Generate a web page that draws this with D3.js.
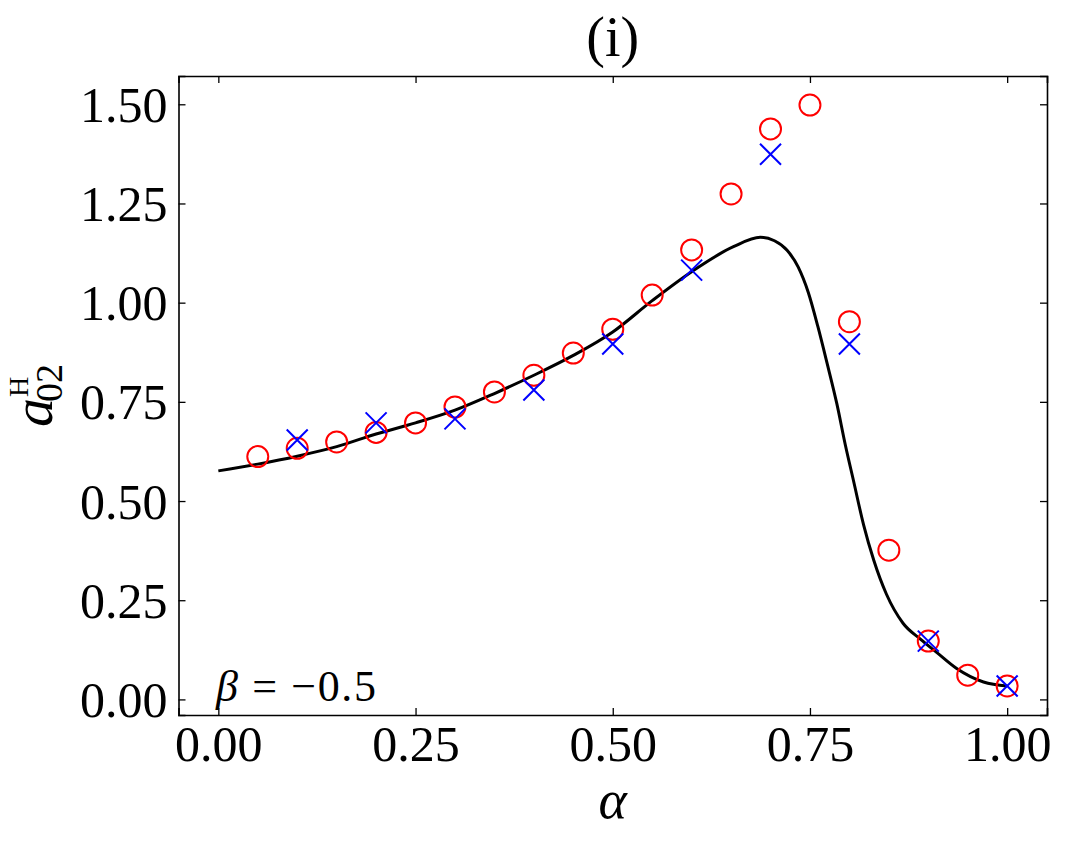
<!DOCTYPE html>
<html>
<head>
<meta charset="utf-8">
<script src="https://cdn.jsdelivr.net/npm/d3@7"></script>
<style>
  body { margin: 0; background: #fff; }
  text { font-family: "Liberation Serif", "DejaVu Serif", serif; fill: #000; }
</style>
</head>
<body>
<svg id="chart" width="1068" height="843"></svg>
<script>
// simulation (circles), alpha every 0.05
const circleAlpha = [0.05, 0.10, 0.15, 0.20, 0.25, 0.30, 0.35, 0.40, 0.45, 0.50,
                     0.55, 0.60, 0.65, 0.70, 0.75, 0.80, 0.85, 0.90, 0.95, 1.00];
const circleA02 = [0.612, 0.633, 0.649, 0.673, 0.697, 0.737, 0.775, 0.817, 0.873, 0.933,
                   1.019, 1.133, 1.274, 1.438, 1.498, 0.952, 0.376, 0.147, 0.061, 0.034];

// second set (crosses), alpha every 0.1
const crossAlpha = [0.1, 0.2, 0.3, 0.4, 0.5, 0.6, 0.7, 0.8, 0.9, 1.0];
const crossA02 = [0.654, 0.697, 0.707, 0.780, 0.896, 1.082, 1.374, 0.896, 0.147, 0.034];

// theory curve
const curveAlpha = [0.00, 0.05, 0.10, 0.15, 0.20, 0.25, 0.30, 0.35, 0.40, 0.45, 0.50, 0.55,
                    0.60, 0.653, 0.687, 0.705, 0.721, 0.735, 0.748, 0.760, 0.772, 0.784,
                    0.795, 0.805, 0.818, 0.831, 0.847, 0.868, 0.890, 0.911, 0.936, 0.970, 1.00];
const curveA02 = [0.576, 0.593, 0.613, 0.637, 0.669, 0.697, 0.729, 0.771, 0.817, 0.867, 0.926, 1.005,
                  1.078, 1.141, 1.165, 1.156, 1.132, 1.090, 1.025, 0.940, 0.845, 0.746,
                  0.640, 0.553, 0.440, 0.350, 0.265, 0.192, 0.152, 0.118, 0.078, 0.044, 0.034];

const xTicks = [0, 0.25, 0.5, 0.75, 1.0];
const yTicks = [0, 0.25, 0.5, 0.75, 1.0, 1.25, 1.5];

const svg = d3.select("#chart");
const mLeft = 178.5, mRight = 1047, mTop = 76, mBottom = 715;

const x = d3.scaleLinear().domain([-0.0505, 1.0505]).range([mLeft, mRight]);
const y = d3.scaleLinear().domain([-0.0393, 1.5713]).range([mBottom, mTop]);

// axes: ticks inward on all sides
const tl = 7;
svg.append("g").attr("transform", `translate(0,${mBottom})`)
  .call(d3.axisBottom(x).tickValues(xTicks).tickSize(-tl).tickFormat(d3.format(".2f")))
  .call(g => g.selectAll("text").attr("font-size", 50).attr("y", 46).attr("dy", 0));
svg.append("g").attr("transform", `translate(0,${mTop})`)
  .call(d3.axisTop(x).tickValues(xTicks).tickSize(-tl).tickFormat(""));
svg.append("g").attr("transform", `translate(${mLeft},0)`)
  .call(d3.axisLeft(y).tickValues(yTicks).tickSize(-tl).tickPadding(11).tickFormat(d3.format(".2f")))
  .call(g => g.selectAll("text").attr("font-size", 50).attr("dy", "0.34em"));
svg.append("g").attr("transform", `translate(${mRight},0)`)
  .call(d3.axisRight(y).tickValues(yTicks).tickSize(-tl).tickFormat(""));

svg.selectAll(".domain").attr("stroke", "#000").attr("stroke-width", 1.6);
svg.selectAll(".tick line").attr("stroke", "#000").attr("stroke-width", 1.3);
svg.selectAll(".tick text").attr("fill", "#000").style("font-family", "'Liberation Serif', serif");

// curve
const line = d3.line().x((d, i) => x(curveAlpha[i])).y(d => y(d)).curve(d3.curveMonotoneX);
svg.append("path").datum(curveA02)
  .attr("d", line)
  .attr("fill", "none").attr("stroke", "#000").attr("stroke-width", 3);

// circles
svg.append("g").selectAll("circle").data(circleA02).join("circle")
  .attr("cx", (d, i) => x(circleAlpha[i]))
  .attr("cy", d => y(d))
  .attr("r", 10.5)
  .attr("fill", "none").attr("stroke", "#ff0000").attr("stroke-width", 2);

// crosses
const cs = 10.5;
svg.append("g").selectAll("path").data(crossA02).join("path")
  .attr("d", (d, i) => {
    const cx = x(crossAlpha[i]), cy = y(d);
    return `M${cx - cs},${cy - cs}L${cx + cs},${cy + cs}M${cx - cs},${cy + cs}L${cx + cs},${cy - cs}`;
  })
  .attr("stroke", "#0000ff").attr("stroke-width", 2).attr("fill", "none");

// title
svg.append("text").attr("x", (mLeft + mRight) / 2).attr("y", 56)
  .attr("text-anchor", "middle").attr("font-size", 56).text("(i)");

// x label
svg.append("text").attr("x", (mLeft + mRight) / 2).attr("y", 818)
  .attr("text-anchor", "middle").attr("font-size", 54).attr("font-style", "italic").text("α");

// y label a_02^H
const yl = svg.append("g").attr("transform", "translate(52,0) rotate(-90)");
yl.append("text").attr("x", -427).attr("y", 0)
  .attr("font-size", 58).attr("font-style", "italic").text("a");
yl.append("text").attr("x", -402).attr("y", 10).attr("font-size", 38).text("02");
yl.append("text").attr("x", -397).attr("y", -24).attr("font-size", 28).text("H");

// annotation
const ann = svg.append("text").attr("x", 216).attr("y", 701).attr("font-size", 44)
  .attr("textLength", 160).attr("lengthAdjust", "spacing");
ann.append("tspan").attr("font-style", "italic").text("β");
ann.append("tspan").text(" = −0.5");
</script>
</body>
</html>
